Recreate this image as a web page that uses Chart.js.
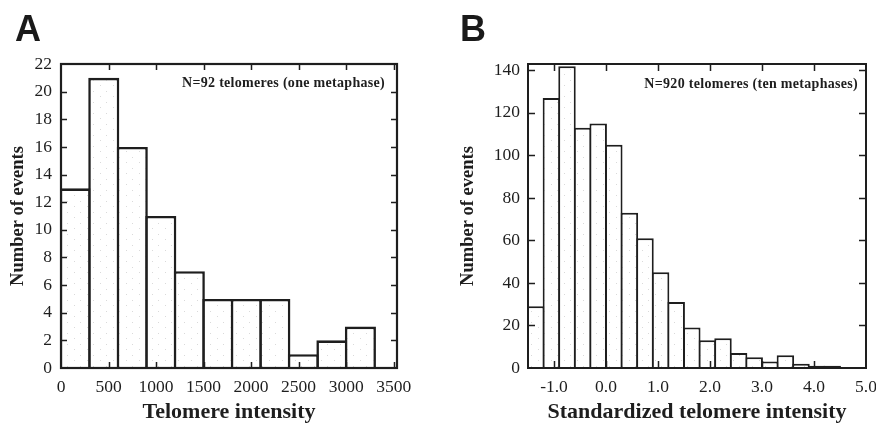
<!DOCTYPE html>
<html>
<head>
<meta charset="utf-8">
<script src="https://cdn.jsdelivr.net/npm/chart.js@4"></script>
<style>
  html, body { margin: 0; padding: 0; background: #fff; overflow: hidden; width: 876px; height: 423px; }
  canvas { position: absolute; top: 0; }
  #chartA { left: 0; }
  #chartB { left: 438px; }
</style>
</head>
<body>
<canvas id="chartA" width="438" height="423"></canvas>
<canvas id="chartB" width="470" height="423"></canvas>
<script>
// Panel A: raw telomere intensity, one metaphase, bins of 300
const binStartsA = [0, 300, 600, 900, 1200, 1500, 1800, 2100, 2400, 2700, 3000];
const binWidthA = 300;
const countsA = [13, 21, 16, 11, 7, 5, 5, 5, 1, 2, 3];
const xTicksA = [0, 500, 1000, 1500, 2000, 2500, 3000, 3500];
const yTicksA = [0, 2, 4, 6, 8, 10, 12, 14, 16, 18, 20, 22];

// Panel B: standardized telomere intensity, ten metaphases, bins of 0.3
const binStartsB = [-1.5, -1.2, -0.9, -0.6, -0.3, 0.0, 0.3, 0.6, 0.9, 1.2,
                    1.5, 1.8, 2.1, 2.4, 2.7, 3.0, 3.3, 3.6, 3.9, 4.2];
const binWidthB = 0.3;
const countsB = [29, 127, 142, 113, 115, 105, 73, 61, 45, 31,
                 19, 13, 14, 7, 5, 3, 6, 2, 1, 1];
const xTicksB = [-1, 0, 1, 2, 3, 4, 5];
const yTicksB = [0, 20, 40, 60, 80, 100, 120, 140];

const SERIF = "'Liberation Serif', 'Times New Roman', serif";
const INK = '#1e1e1e';

// faint stippled fill for the bars
function stipple() {
  const c = document.createElement('canvas');
  c.width = 13; c.height = 11;
  const g = c.getContext('2d');
  g.fillStyle = '#ffffff';
  g.fillRect(0, 0, 13, 11);
  g.fillStyle = 'rgba(150,150,150,0.35)';
  g.fillRect(2, 3, 1, 1);
  g.fillRect(9, 8, 1, 1);
  return g.createPattern(c, 'repeat');
}

// inward tick marks on all four sides, the plot frame, the note and the panel letter
const framePlugin = {
  id: 'framePlugin',
  afterDatasetsDraw(chart, args, o) {
    const { ctx, chartArea: a, scales: { x, y } } = chart;
    ctx.save();
    ctx.strokeStyle = INK;
    ctx.lineWidth = o.tickWidth;
    ctx.beginPath();
    for (const t of x.ticks) {
      const px = Math.round(x.getPixelForValue(t.value)) + 0.5;
      if (px <= a.left + 1 || px >= a.right - 1) continue;
      ctx.moveTo(px, a.bottom); ctx.lineTo(px, a.bottom - o.tickLen);
      ctx.moveTo(px, a.top); ctx.lineTo(px, a.top + o.tickLen);
    }
    for (const t of y.ticks) {
      const py = Math.round(y.getPixelForValue(t.value)) + 0.5;
      if (py <= a.top + 1 || py >= a.bottom - 1) continue;
      ctx.moveTo(a.left, py); ctx.lineTo(a.left + o.tickLen, py);
      ctx.moveTo(a.right, py); ctx.lineTo(a.right - o.tickLen, py);
    }
    ctx.stroke();
    ctx.lineWidth = o.frameWidth;
    ctx.strokeRect(a.left, a.top, a.right - a.left, a.bottom - a.top);
    ctx.restore();
  },
  afterDraw(chart, args, o) {
    const { ctx, chartArea: a } = chart;
    ctx.save();
    ctx.fillStyle = INK;
    ctx.font = 'bold 14px ' + SERIF;
    if ('letterSpacing' in ctx) ctx.letterSpacing = '0.3px';
    ctx.textAlign = 'right';
    ctx.textBaseline = 'alphabetic';
    ctx.fillText(o.note, a.right - o.noteInset, a.top + o.noteDrop);
    if ('letterSpacing' in ctx) ctx.letterSpacing = '0px';
    ctx.font = "bold 36px 'Liberation Sans', Arial, sans-serif";
    ctx.textAlign = 'left';
    ctx.fillStyle = '#1a1a1a';
    ctx.fillText(o.letter, o.letterX, o.letterY);
    ctx.restore();
  }
};

function histogram(canvas, cfg) {
  const points = cfg.starts.map((s, i) => ({ x: s + cfg.width / 2, y: cfg.counts[i] }));
  return new Chart(canvas, {
    type: 'bar',
    data: {
      datasets: [{
        data: points,
        backgroundColor: stipple(),
        borderColor: INK,
        borderWidth: cfg.barBorder,
        borderSkipped: 'start',
        barPercentage: cfg.barPct,
        categoryPercentage: 1,
        clip: 0
      }]
    },
    options: {
      responsive: false,
      animation: false,
      devicePixelRatio: 1,
      layout: { padding: cfg.padding },
      plugins: {
        legend: { display: false },
        tooltip: { enabled: false },
        framePlugin: cfg.frame
      },
      scales: {
        x: {
          type: 'linear',
          min: cfg.xMin,
          max: cfg.xMax,
          offset: false,
          grid: { display: false, drawTicks: false, tickLength: 0 },
          border: { display: false },
          afterBuildTicks: s => { s.ticks = cfg.xTicks.map(v => ({ value: v })); },
          afterFit: s => { s.height = cfg.xAxisHeight; },
          ticks: {
            autoSkip: false,
            maxRotation: 0,
            padding: 9,
            color: INK,
            font: { family: SERIF, size: 17.5 },
            callback: cfg.xFormat
          },
          title: {
            display: true,
            text: cfg.xTitle,
            color: INK,
            padding: { top: 0, bottom: 0 },
            font: { family: SERIF, size: 22, weight: 'bold', lineHeight: 1 }
          }
        },
        y: {
          type: 'linear',
          min: 0,
          max: cfg.yMax,
          grid: { display: false, drawTicks: false, tickLength: 0 },
          border: { display: false },
          afterBuildTicks: s => { s.ticks = cfg.yTicks.map(v => ({ value: v })); },
          afterFit: s => { s.width = cfg.yAxisWidth; },
          ticks: {
            padding: cfg.yTickPad,
            color: INK,
            font: { family: SERIF, size: 17.5 }
          },
          title: {
            display: true,
            text: 'Number of events',
            color: INK,
            padding: { top: cfg.yTitlePad, bottom: 0 },
            font: { family: SERIF, size: 18.5, weight: 'bold', lineHeight: 1 }
          }
        }
      }
    },
    plugins: [framePlugin]
  });
}

histogram(document.getElementById('chartA'), {
  starts: binStartsA, width: binWidthA, counts: countsA,
  xTicks: xTicksA, yTicks: yTicksA,
  xMin: 0, xMax: 3535, yMax: 22,
  xFormat: v => String(v),
  xTitle: 'Telomere intensity',
  barBorder: 2.6, barPct: 1.09,
  padding: { left: 0, right: 41, top: 64, bottom: 0 },
  yAxisWidth: 61, xAxisHeight: 55, yTickPad: 9, yTitlePad: 9,
  frame: { tickLen: 6, tickWidth: 1.5, frameWidth: 2.2,
           note: 'N=92 telomeres (one metaphase)', noteInset: 12, noteDrop: 23,
           letter: 'A', letterX: 15, letterY: 40.5 }
});

histogram(document.getElementById('chartB'), {
  starts: binStartsB, width: binWidthB, counts: countsB,
  xTicks: xTicksB, yTicks: yTicksB,
  xMin: -1.5, xMax: 5.0, yMax: 143,
  xFormat: v => v.toFixed(1),
  xTitle: 'Standardized telomere intensity',
  barBorder: 2, barPct: 1.12,
  padding: { left: 0, right: 42, top: 64, bottom: 0 },
  yAxisWidth: 90, xAxisHeight: 55, yTickPad: 8, yTitlePad: 21,
  frame: { tickLen: 7, tickWidth: 1.5, frameWidth: 2,
           note: 'N=920 telomeres (ten metaphases)', noteInset: 8, noteDrop: 23.5,
           letter: 'B', letterX: 22, letterY: 40.5 }
});
</script>
</body>
</html>
